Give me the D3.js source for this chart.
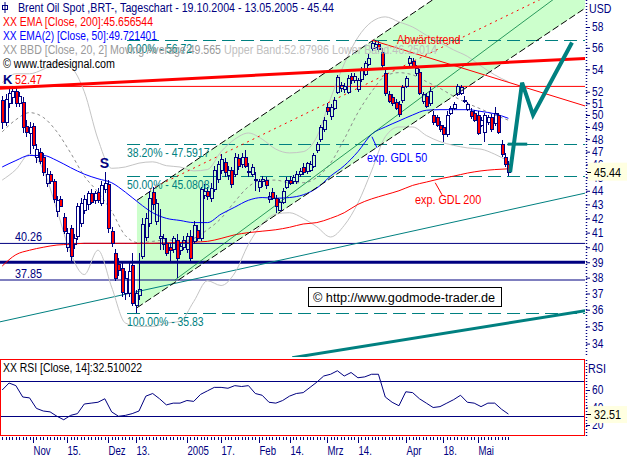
<!DOCTYPE html>
<html><head><meta charset="utf-8">
<script src="https://cdn.jsdelivr.net/npm/d3@7"></script>
<style>
html,body{margin:0;padding:0;background:#fff;}
svg{display:block;font-family:"Liberation Sans",Arial,sans-serif;}
</style></head><body>
<svg id="chart" width="627" height="457"></svg>
<script>
// ---------------- DATA ----------------
const startDate = "2004-10-19", endDate = "2005-05-13";
const open  = [51.3,49.4,51.0,51.5,52.1,51.0,51.1,49.1,48.5,49.1,46.6,47.0,46.6,44.6,45.3,44.7,42.5,43.4,42.1,40.0,41.3,40.2,40.8,41.7,42.6,43.0,43.8,43.3,43.9,43.1,44.1,44.5,41.1,39.6,38.9,38.6,37.0,37.0,38.8,36.3,36.9,39.4,40.7,41.7,43.9,41.8,40.6,40.2,40.3,40.0,39.9,40.5,39.8,40.0,39.9,40.8,40.4,41.2,40.6,43.7,44.0,43.5,44.1,44.9,45.6,46.2,45.2,45.6,45.3,46.5,46.0,46.6,45.5,45.3,44.9,44.3,44.7,44.8,43.4,43.9,43.5,42.6,43.2,44.3,44.8,44.7,44.7,45.3,45.8,45.5,45.6,45.9,47.1,48.0,48.8,50.7,49.9,50.6,52.0,52.3,52.2,52.0,53.4,53.0,52.2,53.1,53.6,54.5,56.0,56.1,56.4,55.6,53.7,51.8,51.5,51.1,50.9,51.3,52.5,54.6,54.8,53.7,53.8,51.2,51.6,51.0,50.0,49.8,49.2,49.0,48.4,50.2,50.6,51.8,51.9,51.2,50.5,50.3,50.2,50.0,49.2,48.6,49.4,49.8,49.3,50.0,47.6,46.6,46.0];
const high  = [51.6,51.8,52.3,52.47,52.4,52.0,51.5,49.6,49.4,49.3,47.6,47.3,46.9,45.7,45.5,44.9,43.6,43.6,42.4,41.3,41.5,40.9,43.1,43.5,43.7,44.0,44.1,44.0,44.2,44.7,45.4,44.8,41.4,39.9,39.3,39.0,38.4,39.1,39.6,37.2,39.6,42.0,42.4,44.0,44.3,43.4,42.7,40.9,40.6,40.3,40.8,40.9,40.3,40.8,41.0,41.2,41.8,41.5,44.3,44.5,44.3,44.6,45.9,46.3,46.8,46.5,45.9,45.8,46.9,46.8,46.9,47.1,46.1,46.0,45.4,44.9,45.1,45.0,43.9,44.2,43.7,43.4,44.2,45.0,45.1,45.2,45.5,45.7,46.1,46.2,46.3,46.9,47.8,49.2,49.8,51.0,50.9,51.5,53.5,52.9,52.8,53.5,53.7,53.7,53.2,54.2,54.8,55.4,56.6,56.72,56.6,56.0,54.0,52.1,51.8,51.4,51.2,52.6,53.4,55.2,55.0,54.4,54.0,52.0,51.9,52.4,50.3,50.0,49.5,49.2,50.3,50.8,51.1,52.7,52.6,51.6,51.1,50.6,50.4,50.3,49.8,50.2,50.0,50.1,50.7,50.2,47.9,46.9,46.3];
const low   = [48.8,49.1,50.6,50.9,50.7,50.7,48.5,48.2,46.8,47.2,46.1,46.0,45.1,44.3,44.5,43.1,42.1,42.8,40.9,39.7,39.0,39.9,40.5,41.4,42.3,42.6,43.0,43.0,43.1,42.9,43.8,41.0,40.0,37.8,38.1,36.8,36.6,36.8,36.2,35.83,36.6,39.2,40.4,41.4,42.6,41.5,39.8,39.8,39.4,39.0,39.6,38.0,39.5,39.8,39.6,39.0,40.2,40.4,40.4,43.4,43.3,43.2,43.9,44.6,45.3,45.0,44.8,44.2,45.0,45.6,45.7,45.7,45.0,45.0,44.0,43.9,44.3,44.1,43.1,43.3,42.4,42.5,43.0,44.1,44.4,44.5,44.5,45.0,45.2,45.3,45.4,45.7,46.9,47.8,48.6,50.0,49.6,50.4,51.8,52.0,51.9,51.8,52.7,52.8,52.0,52.9,53.4,54.3,55.7,55.9,55.6,54.0,51.6,51.0,50.8,50.4,49.8,51.0,52.3,54.3,54.1,53.4,51.7,50.9,50.6,50.8,49.2,49.0,48.6,47.8,48.2,50.0,50.4,51.6,51.7,51.0,50.3,49.7,49.4,48.3,49.0,47.8,49.2,48.6,49.1,48.4,46.6,45.8,45.1];
const close = [49.4,51.4,51.9,52.1,51.0,51.6,49.0,48.6,49.0,47.5,47.2,46.3,45.4,45.3,44.7,43.4,43.3,42.9,41.1,41.0,39.4,40.6,42.9,43.1,43.4,43.8,43.2,43.8,43.3,44.4,44.6,41.3,40.3,38.0,38.5,37.1,38.0,38.4,36.4,37.0,37.3,41.6,42.0,43.5,43.0,43.1,40.8,40.6,39.6,39.8,40.6,39.3,40.1,40.5,40.8,39.3,41.5,40.6,44.1,44.0,43.6,44.2,45.6,46.0,46.4,45.4,45.6,44.5,46.6,45.9,46.6,45.9,45.4,45.8,44.8,44.7,44.9,44.4,43.6,43.5,42.9,43.2,44.0,44.8,44.6,45.0,45.3,45.5,45.4,46.1,46.0,46.7,47.6,49.0,49.6,50.3,50.7,51.3,53.3,52.6,52.5,53.2,53.0,53.4,53.0,54.0,54.6,55.0,56.5,56.4,55.9,54.4,51.9,51.2,51.0,50.6,50.1,52.4,53.2,55.0,54.3,54.1,51.9,51.8,50.8,52.1,49.4,49.2,48.8,48.4,50.0,50.6,50.9,52.5,52.4,51.3,50.9,49.9,49.6,48.5,49.6,50.0,49.8,48.8,50.2,48.6,46.8,46.0,45.44];

// indicators sampled every 4 trading days (index 0,4,...,148)
const indicatorStep = 4;
const ema200 = [38.75,39.5,39.8,40.0,40.15,40.2,40.27,40.27,40.27,40.27,40.27,40.27,40.3,40.32,40.35,40.4,40.6,40.85,41.0,41.1,41.2,41.37,41.6,41.7,42.0,42.4,43.0,43.4,43.7,44.0,44.4,44.65,44.9,45.1,45.33,45.5,45.6,45.66];
const ema50  = [45.8,46.3,46.7,46.7,46.3,45.75,45.25,44.9,44.6,43.9,43.1,42.4,42.0,41.85,41.7,41.7,42.3,42.8,43.3,43.5,43.45,43.5,43.7,44.2,45.1,45.9,47.0,48.4,49.0,49.5,50.0,50.4,50.45,50.45,50.45,50.3,50.1,49.72];
const bbUpper  = [52.8,53.6,53.6,54.0,54.6,54.2,52.0,48.0,45.7,45.8,46.1,46.2,45.9,45.8,45.5,45.6,47.0,48.0,48.5,48.0,47.2,46.9,47.0,48.2,51.4,54.5,57.0,58.5,59.0,58.5,58.0,57.2,56.5,55.8,55.2,54.3,53.5,52.88];
const bbMiddle = [48.6,49.6,50.2,49.8,48.6,46.9,45.1,43.9,42.5,40.8,40.3,40.4,40.5,40.4,40.6,41.2,42.0,43.2,44.3,44.8,44.8,44.6,44.6,45.0,46.1,48.0,50.2,52.0,53.4,53.7,53.5,52.9,52.3,51.6,51.0,50.5,50.0,49.565];
const bbLower  = [44.8,45.6,46.8,45.6,42.6,39.6,38.2,39.8,37.4,35.2,35.0,35.0,35.2,35.3,36.5,37.8,37.5,38.3,40.2,41.6,42.3,42.4,42.0,41.4,40.7,41.5,43.1,45.5,48.2,49.0,49.0,48.3,47.8,47.5,47.3,47.2,46.8,46.25];

// RSI(14) sampled every 2 trading days
const rsiStep = 2;
const rsi = [60,68,65,52,51,39,36,35,30,26,31,33,44,45,46,50,35,30,31,33,36,53,56,50,43,45,45,48,47,55,59,63,63,62,65,64,65,56,54,46,45,48,53,56,57,63,69,76,78,82,76,80,74,75,78,78,52,46,42,58,57,50,45,40,41,45,49,54,46,45,41,45,45,38,32.51];

// levels
const resistanceLevel = 52.47;
const supportLevels = [40.26, 39.0, 37.85];
const supportLabels = ["40.26", null, "37.85"];
const fibLevels = [56.72, 47.5917, 45.0808, 35.83];
const fibLabels = ["0.00% - 56.72", "38.20% - 47.5917", "50.00% - 45.0808", "100.00% - 35.83"];
const fibStartIndex = 36.5;

// trend lines: [tradingDayIndex, price]
const channelLower = [[39.4, 36.12], [163.1, 58.2]];
const channelUpper = [[39.4, 43.30], [126.0, 60.75]];
const channelMid   = [[43.2, 44.1], [162.2, 61.6]];
const greenTrend   = [[50.5, 37.85], [161.1, 60.75]];
const tealTrend    = [[0, 35.3], [170, 43.8]];
const tealThick    = [[84.8, 33.2], [170.4, 35.94]];
const redThick     = [[0, 52.32], [170, 55.0]];
const downTrend    = [[108.1, 56.72], [170.4, 50.77]];
const projection   = [[148.5, 45.4], [152, 52.8], [155.2, 50.0], [166.6, 56.5]];
const projectionBar= [[147.8, 47.6], [153.5, 47.6]];
const gdl50Pointer = [[109.6, 47.3], [108.1, 48.2]];
const gdl200Pointer= [[128.6, 43.7], [126.6, 44.6]];

// axes
const priceTicks = [58,56,54,52,51,50,49,48,47,46,45,44,43,42,41,40,39,38,37,36,35,34];
const rsiTicks = [60,40,20];
const rsiLevels = [70,30];
const timeTickDates = ["2004-11-01","2004-11-15","2004-12-01","2004-12-13","2005-01-03","2005-01-17","2005-02-01","2005-02-14","2005-03-01","2005-03-14","2005-04-01","2005-04-18","2005-05-02"];
const timeTickLabels = ["Nov","15.","Dez","13.","2005","17.","Feb","14.","Mrz","14.","Apr","18.","Mai"];

const legendTitle = "Brent Oil Spot ,BRT-, Tageschart - 19.10.2004 - 13.05.2005 - 45.44";
const legendEma200 = "XX EMA [Close, 200]:45.656544";
const legendEma50 = "XX EMA(2) [Close, 50]:49.721401";
const legendBB1 = "XX BBD [Close, 20, 2] Moving Average:49.565";
const legendBB2 = "Upper Band:52.87986 Lower Band:46.25014";
const legendCopy = "© www.tradesignal.com";
const rsiLegend = "XX RSI [Close, 14]:32.510022";
const copyrightBox = "© http://www.godmode-trader.de";
const lastPrice = 45.44, lastRsi = 32.51;

// ---------------- DRAW ----------------
const NAVY = "#000080", TEAL = "#008080", RED = "#ff0000";
const PLOT_R = 585, PLOT_B = 357;
const NARROW = 0.87;
const svg = d3.select("#chart");

const tradingDays = [];
for (let d = new Date(startDate + "T00:00:00Z"); d <= new Date(endDate + "T00:00:00Z"); d.setUTCDate(d.getUTCDate() + 1)) {
  const w = d.getUTCDay();
  if (w !== 0 && w !== 6) tradingDays.push(d.toISOString().slice(0, 10));
}

const x = d3.scaleLinear().domain([0, tradingDays.length - 1]).range([2.2, 508.4]);
const y = d3.scaleLog().domain([34, 58]).range([343.6, 27]);
const yR = d3.scaleLinear().domain([20, 60]).range([425, 390]);

const defs = svg.append("defs");
defs.append("clipPath").attr("id", "clipMain").append("rect").attr("x", 0).attr("y", 0).attr("width", PLOT_R).attr("height", PLOT_B);
defs.append("clipPath").attr("id", "clipRsi").append("rect").attr("x", 1).attr("y", 360).attr("width", 583).attr("height", 75);

const main = svg.append("g").attr("clip-path", "url(#clipMain)");

const px = p => [x(p[0]), y(p[1])];
const at = (a, b, X) => [X, a[1] + (X - a[0]) / (b[0] - a[0]) * (b[1] - a[1])];
function seg(pts, extL, extR) {
  const a = px(pts[0]), b = px(pts[1]);
  return [extL ? at(a, b, -20) : a, extR ? at(a, b, 800) : b];
}
const pathLine = d3.line();

// condense helper: width either factor of natural width or explicit width
function squeeze(sel, factorOrWidth, explicit) {
  sel.each(function () {
    const L = this.getComputedTextLength();
    const w = explicit ? factorOrWidth : L * factorOrWidth;
    d3.select(this).attr("textLength", w).attr("lengthAdjust", "spacingAndGlyphs");
  });
  return sel;
}

// green channel fill
const lo = seg(channelLower, false, true), up = seg(channelUpper, false, true);
main.append("path").attr("d", pathLine([lo[0], up[0], up[1], lo[1]]) + "Z").attr("fill", "#ccffcc");

// fib dashed lines
fibLevels.forEach(v => {
  main.append("line").attr("x1", x(fibStartIndex)).attr("x2", PLOT_R).attr("y1", Math.round(y(v)) + 0.5).attr("y2", Math.round(y(v)) + 0.5)
    .attr("stroke", TEAL).attr("stroke-width", 1).attr("stroke-dasharray", "13,6");
});

// horizontal support / resistance
supportLevels.forEach((v, k) => {
  main.append("line").attr("x1", 0).attr("x2", PLOT_R).attr("y1", y(v)).attr("y2", y(v))
    .attr("stroke", NAVY).attr("stroke-width", k === 1 ? 3 : 1);
});
main.append("line").attr("x1", 0).attr("x2", PLOT_R).attr("y1", y(resistanceLevel)).attr("y2", y(resistanceLevel)).attr("stroke", RED).attr("stroke-width", 1);

// teal trend lines
main.append("path").attr("d", pathLine(seg(tealTrend, true, true))).attr("stroke", TEAL).attr("stroke-width", 1).attr("fill", "none");
main.append("path").attr("d", pathLine(seg(tealThick, false, true))).attr("stroke", TEAL).attr("stroke-width", 3).attr("fill", "none");

// Bollinger + EMAs
const ind = (arr, step) => d3.line().x((d, i) => x(i * step)).y(d => y(d)).curve(d3.curveMonotoneX)(arr);
main.append("path").attr("d", ind(bbUpper, indicatorStep)).attr("stroke", "#c4c4c4").attr("fill", "none");
main.append("path").attr("d", ind(bbLower, indicatorStep)).attr("stroke", "#c4c4c4").attr("fill", "none");
main.append("path").attr("d", ind(bbMiddle, indicatorStep)).attr("stroke", "#8c8c8c").attr("stroke-dasharray", "3,3").attr("fill", "none");
main.append("path").attr("d", ind(ema200, indicatorStep)).attr("stroke", RED).attr("fill", "none");
main.append("path").attr("d", ind(ema50, indicatorStep)).attr("stroke", "#0000ff").attr("fill", "none");

// channel lines
main.append("path").attr("d", pathLine(lo)).attr("stroke", "#000").attr("stroke-dasharray", "7,3").attr("fill", "none");
main.append("path").attr("d", pathLine(up)).attr("stroke", "#000").attr("stroke-dasharray", "7,3").attr("fill", "none");
main.append("path").attr("d", pathLine(seg(channelMid, false, true))).attr("stroke", RED).attr("stroke-dasharray", "2,4").attr("fill", "none");
main.append("path").attr("d", pathLine(seg(greenTrend, false, true))).attr("stroke", "#008040").attr("stroke-width", 0.8).attr("fill", "none");

// candles
const cg = main.append("g").attr("shape-rendering", "crispEdges");
close.forEach((c, i) => {
  const o = open[i], cx = Math.round(x(i)) + 0.5;
  const top = y(Math.max(o, c)), bot = y(Math.min(o, c));
  const yt = Math.round(top), yb = Math.max(Math.round(bot), yt + 1);
  cg.append("line").attr("x1", cx).attr("x2", cx).attr("y1", y(high[i])).attr("y2", yt).attr("stroke", NAVY);
  cg.append("line").attr("x1", cx).attr("x2", cx).attr("y1", yb).attr("y2", y(low[i])).attr("stroke", NAVY);
  cg.append("rect").attr("x", cx - 1.5).attr("y", yt).attr("width", 3).attr("height", yb - yt)
    .attr("fill", c < o ? RED : "none").attr("stroke", NAVY).attr("stroke-width", 1);
});

// red trend lines
main.append("path").attr("d", pathLine(seg(redThick, true, true))).attr("stroke", RED).attr("stroke-width", 3).attr("fill", "none");
main.append("path").attr("d", pathLine(seg(downTrend, false, true))).attr("stroke", RED).attr("stroke-width", 1).attr("fill", "none");

// projection
main.append("path").attr("d", pathLine(projection.map(px))).attr("stroke", TEAL).attr("stroke-width", 4).attr("fill", "none").attr("stroke-linejoin", "miter");
main.append("path").attr("d", pathLine(projectionBar.map(px))).attr("stroke", TEAL).attr("stroke-width", 3).attr("fill", "none");

// pointers
main.append("path").attr("d", pathLine(gdl50Pointer.map(px))).attr("stroke", "#0000ff").attr("fill", "none");
main.append("path").attr("d", pathLine(gdl200Pointer.map(px))).attr("stroke", RED).attr("fill", "none");

// annotations
const T = (g, tx, ty, s, col, opt = {}) => g.append("text").attr("x", tx).attr("y", ty).text(s).attr("fill", col)
  .attr("font-size", opt.size || 12).attr("font-weight", opt.bold ? "bold" : null);
fibLevels.forEach((v, k) => squeeze(T(main, x(fibStartIndex), y(v) + 13, fibLabels[k], TEAL), NARROW));
supportLevels.forEach((v, k) => { if (supportLabels[k]) squeeze(T(main, 15, y(v) - 2, supportLabels[k], NAVY), 0.9); });
T(main, 3, y(resistanceLevel) - 2, "K", NAVY, {bold: true, size: 13});
squeeze(T(main, 15, y(resistanceLevel) - 2, String(resistanceLevel), RED), 0.9);
T(main, x(30) - 5, y(high[30]) - 4, "S", NAVY, {bold: true, size: 14});
squeeze(T(main, x(gdl50Pointer[0][0]) - 10, y(gdl50Pointer[0][1]) + 14, "exp. GDL 50", "#0000ff"), 0.9);
squeeze(T(main, x(gdl200Pointer[0][0]) - 27, y(gdl200Pointer[0][1]) + 9, "exp. GDL 200", RED), 0.9);
squeeze(T(main, x(downTrend[0][0]) + 25, y(downTrend[0][1]) + 4, "Abwärtstrend", RED), 0.9);

// copyright box
svg.append("rect").attr("x", 308.5).attr("y", 287.5).attr("width", 193).attr("height", 19).attr("fill", "#fff").attr("stroke", "#000");
squeeze(T(svg, 313, 302, copyrightBox, "#000"), 182, true);

// legend
const lg = svg.append("g");
lg.append("rect").attr("x", 2.5).attr("y", 5.5).attr("width", 5).attr("height", 4).attr("fill", "none").attr("stroke", NAVY);
lg.append("line").attr("x1", 5).attr("x2", 5).attr("y1", 2).attr("y2", 13).attr("stroke", NAVY);
squeeze(T(lg, 18, 12, legendTitle, NAVY), 316, true);
squeeze(T(lg, 3, 26, legendEma200, RED), 150, true);
squeeze(T(lg, 3, 40, legendEma50, "#0000ff"), 154, true);
squeeze(T(lg, 3, 54, legendBB1, "#999999"), 218, true);
squeeze(T(lg, 224, 54, legendBB2, "#c0c0c0"), 213, true);
squeeze(T(lg, 3, 68, legendCopy, "#000"), 112, true);

// price axis
svg.append("line").attr("x1", 586.5).attr("x2", 586.5).attr("y1", 0).attr("y2", PLOT_B).attr("stroke", NAVY).attr("stroke-width", 1.5).attr("stroke-dasharray", "1,2");
const gY = svg.append("g").attr("transform", "translate(586,0)")
  .call(d3.axisRight(y).tickValues(priceTicks).tickFormat(d => d).tickSize(4).tickPadding(2));
gY.select(".domain").remove();
gY.attr("font-family", "Liberation Sans, Arial, sans-serif").attr("font-size", 12);
gY.selectAll("line").attr("stroke", NAVY);
squeeze(gY.selectAll("text").attr("fill", NAVY), 0.85);
squeeze(T(svg, 589, 13, "USD", NAVY), 0.88);
svg.append("rect").attr("x", 588).attr("y", y(lastPrice) - 9).attr("width", 39).attr("height", 18).attr("fill", "#ffffe1");
svg.append("line").attr("x1", 587).attr("x2", 591).attr("y1", Math.round(y(lastPrice)) + 0.5).attr("y2", Math.round(y(lastPrice)) + 0.5).attr("stroke", "#000");
squeeze(T(svg, 594, y(lastPrice) + 5, lastPrice.toFixed(2), "#000"), 0.9);

// RSI panel
svg.append("rect").attr("x", 0.5).attr("y", 359.5).attr("width", 584).attr("height", 76).attr("fill", "none").attr("stroke", RED);
const rg = svg.append("g").attr("clip-path", "url(#clipRsi)");
rsiLevels.forEach(v => rg.append("line").attr("x1", 0).attr("x2", 584).attr("y1", Math.round(yR(v)) + 0.5).attr("y2", Math.round(yR(v)) + 0.5).attr("stroke", NAVY));
rg.append("path").attr("d", d3.line().x((d, i) => x(i * rsiStep)).y(d => yR(d))(rsi)).attr("stroke", NAVY).attr("fill", "none");
squeeze(T(svg, 3, 372, rsiLegend, "#000"), 139, true);
svg.append("line").attr("x1", 586.5).attr("x2", 586.5).attr("y1", 360).attr("y2", 436).attr("stroke", NAVY).attr("stroke-width", 1.5).attr("stroke-dasharray", "1,2");
const gR = svg.append("g").attr("transform", "translate(586,0)")
  .call(d3.axisRight(yR).tickValues(rsiTicks).tickFormat(d => d).tickSize(4).tickPadding(2));
gR.select(".domain").remove();
gR.attr("font-family", "Liberation Sans, Arial, sans-serif").attr("font-size", 12);
gR.selectAll("line").attr("stroke", NAVY);
squeeze(gR.selectAll("text").attr("fill", NAVY), 0.85);
squeeze(T(svg, 588, 373, "RSI", NAVY), 0.9);
svg.append("rect").attr("x", 588).attr("y", yR(lastRsi) - 8).attr("width", 39).attr("height", 17).attr("fill", "#ffffe1");
svg.append("line").attr("x1", 587).attr("x2", 591).attr("y1", Math.round(yR(lastRsi)) + 0.5).attr("y2", Math.round(yR(lastRsi)) + 0.5).attr("stroke", "#000");
squeeze(T(svg, 594, yR(lastRsi) + 5, lastRsi.toFixed(2), "#000"), 0.9);

// time axis
const tg = svg.append("g").attr("shape-rendering", "crispEdges");
tradingDays.forEach((d, i) => tg.append("line").attr("x1", Math.round(x(i)) + 0.5).attr("x2", Math.round(x(i)) + 0.5).attr("y1", 437).attr("y2", 440).attr("stroke", NAVY));
timeTickDates.forEach((d, k) => {
  const i = tradingDays.indexOf(d);
  const xx = Math.round(x(i)) + 0.5;
  tg.append("line").attr("x1", xx).attr("x2", xx).attr("y1", 437).attr("y2", 443).attr("stroke", NAVY);
  squeeze(T(svg, xx, 455, timeTickLabels[k], NAVY), 0.8);
});
</script>
</body></html>
